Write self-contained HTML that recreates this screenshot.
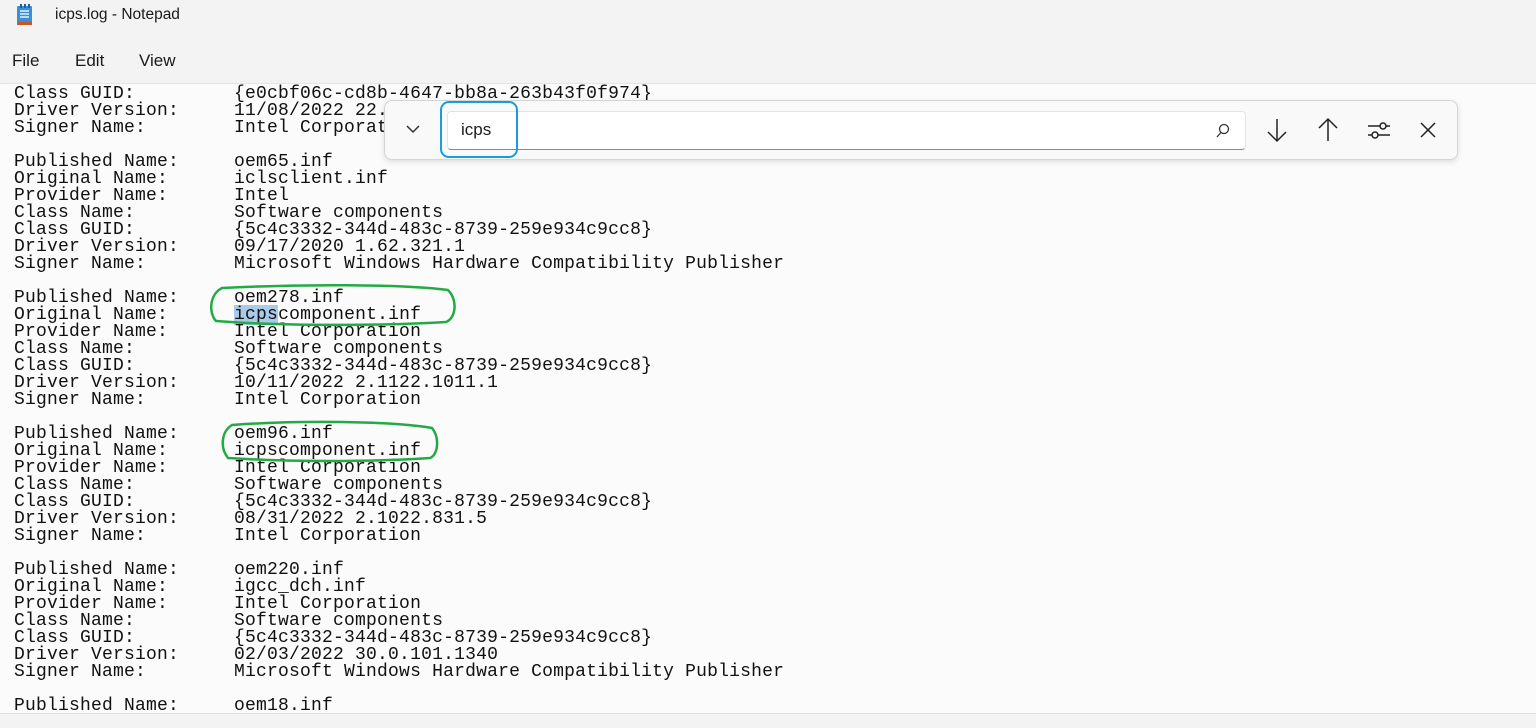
<!DOCTYPE html>
<html><head><meta charset="utf-8"><style>
body{margin:0;width:1536px;height:728px;overflow:hidden;background:#f3f3f3;font-family:"Liberation Sans",sans-serif;position:relative}
.title{position:absolute;left:55px;top:6px;font-size:15.5px;color:#1a1a1a}
.menu{position:absolute;top:51px;font-size:17px;color:#1a1a1a}
.txt{position:absolute;left:0;top:83px;width:1536px;height:629px;background:#fbfbfb;border-top:1px solid #e5e5e5;border-bottom:1px solid #e0e0e0}
pre{margin:0;position:absolute;left:14px;top:2px;font-family:"Liberation Mono","DejaVu Sans Mono",monospace;font-size:18px;letter-spacing:0.2px;line-height:17px;color:#111}
.sel{background:#a9cbe9}
.find{position:absolute;left:384px;top:100px;width:1072px;height:58px;background:#f9f9f9;border:1px solid #d5d5d5;border-radius:8px;box-shadow:0 2px 6px rgba(0,0,0,.12)}
.inp{position:absolute;left:62px;top:10px;width:797px;height:37px;background:#fff;border:1px solid #e3e3e3;border-bottom:1px solid #8a8a8a;border-radius:4px}
</style></head><body>
<svg style="position:absolute;left:16px;top:4px" width="18" height="22"><rect x="1" y="2" width="15" height="18" rx="1" fill="#3a8fd6"/><rect x="1" y="18" width="15" height="3" fill="#c8562a"/><g stroke="#fff" stroke-width="1.3"><line x1="4" y1="7" x2="13" y2="7"/><line x1="4" y1="10" x2="13" y2="10"/><line x1="4" y1="13" x2="13" y2="13"/></g><g fill="#1f5f99"><rect x="4" y="0" width="2" height="4"/><rect x="8" y="0" width="2" height="4"/><rect x="12" y="0" width="2" height="4"/></g></svg>
<div class="title">icps.log - Notepad</div>
<div class="menu" style="left:12px">File</div>
<div class="menu" style="left:75px">Edit</div>
<div class="menu" style="left:139px">View</div>
<div class="txt"><pre>Class GUID:         {e0cbf06c-cd8b-4647-bb8a-263b43f0f974}
Driver Version:     11/08/2022 22.
Signer Name:        Intel Corporat

Published Name:     oem65.inf
Original Name:      iclsclient.inf
Provider Name:      Intel
Class Name:         Software components
Class GUID:         {5c4c3332-344d-483c-8739-259e934c9cc8}
Driver Version:     09/17/2020 1.62.321.1
Signer Name:        Microsoft Windows Hardware Compatibility Publisher

Published Name:     oem278.inf
Original Name:      <span class="sel">icps</span>component.inf
Provider Name:      Intel Corporation
Class Name:         Software components
Class GUID:         {5c4c3332-344d-483c-8739-259e934c9cc8}
Driver Version:     10/11/2022 2.1122.1011.1
Signer Name:        Intel Corporation

Published Name:     oem96.inf
Original Name:      icpscomponent.inf
Provider Name:      Intel Corporation
Class Name:         Software components
Class GUID:         {5c4c3332-344d-483c-8739-259e934c9cc8}
Driver Version:     08/31/2022 2.1022.831.5
Signer Name:        Intel Corporation

Published Name:     oem220.inf
Original Name:      igcc_dch.inf
Provider Name:      Intel Corporation
Class Name:         Software components
Class GUID:         {5c4c3332-344d-483c-8739-259e934c9cc8}
Driver Version:     02/03/2022 30.0.101.1340
Signer Name:        Microsoft Windows Hardware Compatibility Publisher

Published Name:     oem18.inf</pre></div>
<svg style="position:absolute;left:0;top:0" width="1536" height="728">
<path d="M222,288 C300,284 400,284 448,290 C458,300 456,318 446,322 C380,326 280,326 216,321 C208,312 210,294 222,288 Z" fill="none" stroke="#22aa44" stroke-width="2.5"/>
<path d="M232,425 C300,420 390,421 432,428 C440,438 438,455 430,458 C370,462 290,462 228,458 C220,448 221,432 232,425 Z" fill="none" stroke="#22aa44" stroke-width="2.5"/>
</svg>
<div class="find">
<svg style="position:absolute;left:20px;top:22px" width="16" height="12"><polyline points="2,3 8,9 14,3" fill="none" stroke="#333" stroke-width="1.5"/></svg>
<div class="inp"><span style="position:absolute;left:13px;top:8px;font-size:17px;color:#1a1a1a">icps</span>
<svg style="position:absolute;right:14px;top:11px" width="16" height="16"><circle cx="9" cy="6" r="4.5" fill="none" stroke="#333" stroke-width="1.3"/><line x1="6" y1="9.5" x2="2" y2="14" stroke="#333" stroke-width="1.3"/></svg></div>
<svg style="position:absolute;left:880px;top:16px" width="190" height="26" stroke="#222" stroke-width="1.5" fill="none">
<line x1="12" y1="2" x2="12" y2="23"/><polyline points="3,15 12,24 21,15"/>
<line x1="63" y1="3" x2="63" y2="24"/><polyline points="54,11 63,2 72,11"/>
<line x1="103" y1="9" x2="125" y2="9"/><line x1="103" y1="18" x2="125" y2="18"/><circle cx="118" cy="9" r="3" fill="#f9f9f9"/><circle cx="110" cy="18" r="3" fill="#f9f9f9"/>
<line x1="156" y1="6" x2="170" y2="20"/><line x1="170" y1="6" x2="156" y2="20"/>
</svg>
</div>
<div style="position:absolute;left:440px;top:101px;width:74px;height:53px;border:2.5px solid #1a9be0;border-radius:9px"></div>
</body></html>
